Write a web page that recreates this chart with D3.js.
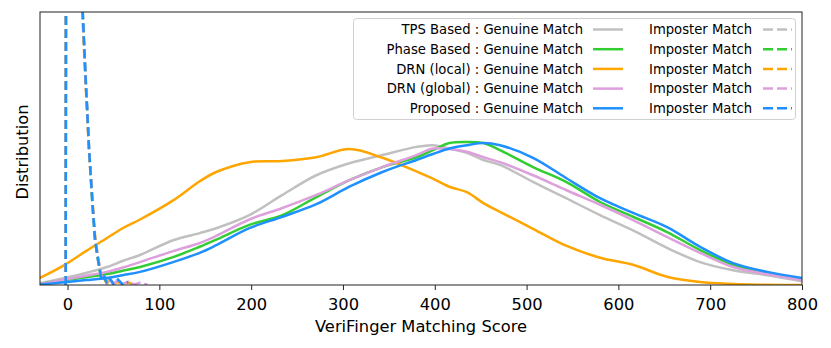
<!DOCTYPE html>
<html>
<head>
<meta charset="utf-8">
<script src="https://cdn.jsdelivr.net/npm/d3@7"></script>
<style>
    body { margin: 0; background: #fff; }
    svg { display: block; font-family: 'DejaVu Sans', sans-serif; }
</style>
</head>
<body>
<svg id="chart" width="831" height="348"></svg>
<script>
    'use strict';

    // genuine match densities, sampled on a shared score grid
    var genuineScores = [-30, -3, 20, 43, 60, 79, 115, 144, 162, 198, 234, 271, 307, 343, 380,
        398, 416, 435, 453, 471, 507, 543, 580, 616, 653, 689, 725, 762, 800];

    var tpsGenuine = [0.03, 0.13, 0.22, 0.33, 0.44, 0.55, 0.82, 0.95, 1.04, 1.28, 1.65, 2.01, 2.23, 2.38, 2.53,
        2.56, 2.5, 2.42, 2.29, 2.2, 1.89, 1.59, 1.28, 1.0, 0.68, 0.42, 0.27, 0.18, 0.07];
    var phaseGenuine = [0.02, 0.09, 0.14, 0.2, 0.26, 0.33, 0.51, 0.7, 0.83, 1.1, 1.28, 1.61, 1.92, 2.16, 2.34,
        2.47, 2.6, 2.62, 2.6, 2.47, 2.16, 1.89, 1.52, 1.25, 0.97, 0.64, 0.37, 0.22, 0.11];
    var drnLocalGenuine = [0.13, 0.37, 0.62, 0.86, 1.04, 1.2, 1.55, 1.9, 2.07, 2.25, 2.27, 2.34, 2.49, 2.33, 2.08,
        1.95, 1.8, 1.7, 1.5, 1.34, 1.03, 0.72, 0.5, 0.37, 0.15, 0.055, 0.02, 0.005, 0];
    var drnGlobalGenuine = [0.02, 0.1, 0.17, 0.24, 0.32, 0.42, 0.62, 0.77, 0.9, 1.2, 1.41, 1.65, 1.92, 2.16, 2.38,
        2.5, 2.49, 2.44, 2.34, 2.25, 2.01, 1.74, 1.47, 1.19, 0.88, 0.59, 0.33, 0.2, 0.09];
    var proposedGenuine = [0.01, 0.05, 0.09, 0.13, 0.18, 0.24, 0.42, 0.59, 0.73, 1.04, 1.25, 1.48, 1.8, 2.07, 2.29,
        2.4, 2.5, 2.56, 2.6, 2.56, 2.33, 1.96, 1.59, 1.32, 1.06, 0.7, 0.4, 0.24, 0.13];

    // imposter match densities (the peak runs far above the visible range)
    var imposterScores = [-2, -1, 15, 16, 19.6, 21.4, 23.5, 27.4, 30, 33.3, 37, 40, 43, 46, 50, 55, 60, 66, 73, 80, 87];

    var tpsImposter = [0, 20, 20, 5.2, 3.9, 3.3, 2.5, 1.45, 0.8, 0.42, 0.1, 0.14, 0.03, 0.08, 0.01,
        null, null, null, null, null, null];
    var phaseImposter = [0, 20, 20, 5.2, 3.8, 3.2, 2.45, 1.4, 0.82, 0.45, 0.08, 0.12, 0.02,
        null, null, null, null, null, null, null, null];
    var drnLocalImposter = [0, 20, 20, 5.0, 3.7, 3.1, 2.4, 1.5, 0.9, 0.5, 0.12, 0.1, 0.04, 0.09, 0.02,
        0.06, 0.01, 0.05, 0.0, null, null];
    var drnGlobalImposter = [0, 20, 20, 5.1, 3.8, 3.2, 2.5, 1.45, 0.85, 0.5, 0.15, 0.2, 0.05, 0.12, 0.03,
        0.08, 0.02, 0.06, 0.01, 0.05, 0.0];
    var proposedImposter = [0, 20, 20, 5.2, 3.81, 3.2, 2.47, 1.43, 0.82, 0.46, 0.09, 0.15, 0.03, 0.12, 0.02,
        0.1, 0.01, 0.05, null, null, null];

    var methodNames = ['TPS Based', 'Phase Based', 'DRN (local)', 'DRN (global)', 'Proposed'];
    var methodColors = ['#c0c0c0', '#32cd32', '#ffa500', '#dda0dd', '#1e90ff'];
    var genuineSeries = [tpsGenuine, phaseGenuine, drnLocalGenuine, drnGlobalGenuine, proposedGenuine];
    var imposterSeries = [tpsImposter, phaseImposter, drnLocalImposter, drnGlobalImposter, proposedImposter];

    var xTicks = [0, 100, 200, 300, 400, 500, 600, 700, 800];
    var xDomain = [-30, 800];
    var yDomain = [0, 5];

    var margin = {left: 40, right: 29, top: 12, bottom: 63},
        width = 831, height = 348;

    var svg = d3.select('#chart');

    var x = d3.scaleLinear().domain(xDomain).range([margin.left, width - margin.right]);
    var y = d3.scaleLinear().domain(yDomain).range([height - margin.bottom, margin.top]);

    svg.append('defs').append('clipPath')
        .attr('id', 'plot-clip')
        .append('rect')
        .attr('x', margin.left)
        .attr('y', margin.top)
        .attr('width', width - margin.left - margin.right)
        .attr('height', height - margin.top - margin.bottom);

    var plot = svg.append('g').attr('clip-path', 'url(#plot-clip)');

    function pairs(scores, values) {
        return scores.map(function (s, i) { return [s, values[i]]; });
    }

    var smoothLine = d3.line()
        .x(function (d) { return x(d[0]); })
        .y(function (d) { return y(d[1]); })
        .curve(d3.curveCatmullRom.alpha(0.5));

    var rawLine = d3.line()
        .defined(function (d) { return d[1] !== null; })
        .x(function (d) { return x(d[0]); })
        .y(function (d) { return y(d[1]); });

    // matplotlib order: genuine then imposter for each method
    methodNames.forEach(function (name, i) {
        plot.append('path')
            .attr('d', smoothLine(pairs(genuineScores, genuineSeries[i])))
            .attr('fill', 'none')
            .attr('stroke', methodColors[i])
            .attr('stroke-width', 2.5);

        plot.append('path')
            .attr('d', rawLine(pairs(imposterScores, imposterSeries[i])))
            .attr('fill', 'none')
            .attr('stroke', methodColors[i])
            .attr('stroke-width', 2.5)
            .attr('stroke-dasharray', '9,4');
    });

    // axes
    var xAxis = svg.append('g')
        .attr('transform', 'translate(0,' + (height - margin.bottom) + ')')
        .call(d3.axisBottom(x).tickValues(xTicks).tickSize(5).tickPadding(8).tickSizeOuter(0));

    xAxis.select('.domain').remove();
    xAxis.selectAll('line').attr('stroke', '#222').attr('stroke-width', 1);
    xAxis.selectAll('text')
        .attr('fill', '#000')
        .style('font-family', "'DejaVu Sans', sans-serif")
        .style('font-size', '16.3px');

    svg.append('rect')
        .attr('x', margin.left)
        .attr('y', margin.top)
        .attr('width', width - margin.left - margin.right)
        .attr('height', height - margin.top - margin.bottom)
        .attr('fill', 'none')
        .attr('stroke', '#222')
        .attr('stroke-width', 1);

    svg.append('text')
        .attr('x', (margin.left + width - margin.right) / 2)
        .attr('y', 332)
        .attr('text-anchor', 'middle')
        .style('font-size', '16.3px')
        .text('VeriFinger Matching Score');

    svg.append('text')
        .attr('transform', 'translate(28,' + 152 + ') rotate(-90)')
        .attr('text-anchor', 'middle')
        .style('font-size', '16.3px')
        .text('Distribution');

    // legend
    var legend = svg.append('g');

    legend.append('rect')
        .attr('x', 353.5)
        .attr('y', 18.5)
        .attr('width', 442)
        .attr('height', 101)
        .attr('rx', 3)
        .attr('fill', 'rgba(255,255,255,0.8)')
        .attr('stroke', '#d0d0d0');

    methodNames.forEach(function (name, i) {
        var cy = 29.5 + i * 19.7;
        var row = legend.append('g').style('font-size', '13.2px');

        row.append('text')
            .attr('x', 583)
            .attr('y', cy)
            .attr('dy', '0.36em')
            .attr('text-anchor', 'end')
            .text(name + ' : Genuine Match');

        row.append('line')
            .attr('x1', 593).attr('x2', 623)
            .attr('y1', cy).attr('y2', cy)
            .attr('stroke', methodColors[i])
            .attr('stroke-width', 2.5);

        row.append('text')
            .attr('x', 649)
            .attr('y', cy)
            .attr('dy', '0.36em')
            .text('Imposter Match');

        row.append('line')
            .attr('x1', 763).attr('x2', 792)
            .attr('y1', cy).attr('y2', cy)
            .attr('stroke', methodColors[i])
            .attr('stroke-width', 2.5)
            .attr('stroke-dasharray', '10,4');
    });
</script>
</body>
</html>
